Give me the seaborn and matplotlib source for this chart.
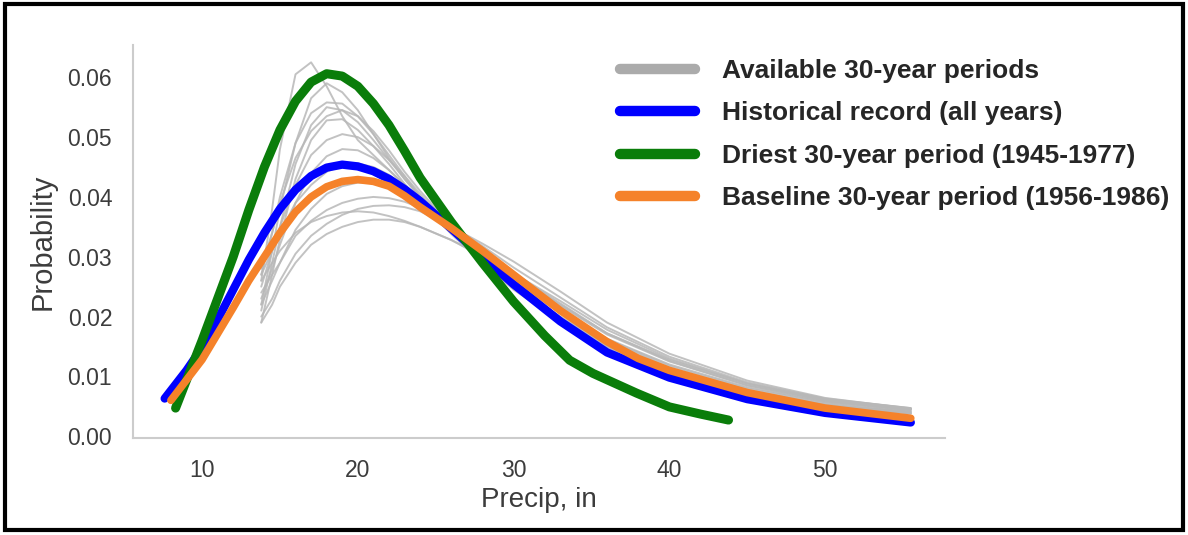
import numpy as np
import pandas as pd
import matplotlib
matplotlib.use("Agg")
import matplotlib.pyplot as plt
from matplotlib.lines import Line2D
import seaborn as sns

# Historical record (all years)
hist_x = [7.6, 9, 10, 11, 12, 13, 14, 15, 16, 17, 18, 19, 20, 21, 22, 23, 24, 26, 28, 30, 33, 36, 40, 45, 50, 55.5]
hist_y = [0.0063, 0.0110, 0.0148, 0.0195, 0.0245, 0.0295, 0.0340, 0.0380, 0.0412, 0.0435, 0.0449, 0.0454,
          0.0451, 0.0443, 0.0430, 0.0413, 0.0393, 0.0347, 0.0300, 0.0254, 0.0192, 0.0140, 0.0098, 0.0062,
          0.0039, 0.0023]

# Driest 30-year period (1945-1977)
dry_x = [8.3, 10, 12, 13, 14, 15, 16, 17, 18, 19, 20, 21, 22, 23, 24, 26, 28, 30, 32, 33.6, 35.1, 37.9, 40, 42, 43.8]
dry_y = [0.0047, 0.0160, 0.0300, 0.0378, 0.0450, 0.0512, 0.0560, 0.0592, 0.0606, 0.0602, 0.0585, 0.0556,
         0.0520, 0.0477, 0.0432, 0.0358, 0.0290, 0.0225, 0.0168, 0.0127, 0.0105, 0.0072, 0.0049, 0.0037, 0.0027]

# Baseline 30-year period (1956-1986)
base_x = [8.0, 10, 12, 13, 14, 15, 16, 17, 18, 19, 20, 21, 22, 23, 24, 26, 28, 30, 33, 36, 38, 40, 45, 50, 55.5]
base_y = [0.0060, 0.0128, 0.0215, 0.0260, 0.0300, 0.0340, 0.0375, 0.0400, 0.0417, 0.0426, 0.0429, 0.0426,
          0.0418, 0.0402, 0.0383, 0.0348, 0.0310, 0.0270, 0.0210, 0.0158, 0.0130, 0.0110, 0.0073, 0.0047, 0.0030]

# Available 30-year periods (shared precip grid)
gray_x = [13.8, 14.5, 15, 16, 17, 18, 19, 20, 21, 22, 23, 24, 26, 28, 30, 33, 36, 40, 45, 50, 55.5]
gray_curves = [
    [0.026, 0.038, 0.048, 0.0605, 0.0625, 0.0585, 0.0535, 0.0495, 0.0470, 0.0445, 0.0420, 0.0395, 0.0345, 0.0295, 0.0250, 0.0195, 0.0150, 0.0108, 0.0072, 0.0051, 0.0038],
    [0.022, 0.031, 0.038, 0.049, 0.0565, 0.0590, 0.0575, 0.0545, 0.0505, 0.0465, 0.0430, 0.0400, 0.0340, 0.0290, 0.0245, 0.0192, 0.0148, 0.0108, 0.0073, 0.0052, 0.0040],
    [0.027, 0.034, 0.040, 0.049, 0.0540, 0.0558, 0.0556, 0.0535, 0.0505, 0.0470, 0.0435, 0.0400, 0.0345, 0.0295, 0.0252, 0.0200, 0.0155, 0.0112, 0.0075, 0.0053, 0.0041],
    [0.021, 0.029, 0.035, 0.0455, 0.0520, 0.0550, 0.0545, 0.0525, 0.0495, 0.0462, 0.0430, 0.0400, 0.0343, 0.0292, 0.0250, 0.0198, 0.0152, 0.0110, 0.0073, 0.0051, 0.0039],
    [0.028, 0.034, 0.039, 0.0465, 0.0510, 0.0535, 0.0545, 0.0535, 0.0510, 0.0478, 0.0442, 0.0410, 0.0352, 0.0300, 0.0258, 0.0206, 0.0160, 0.0115, 0.0077, 0.0055, 0.0042],
    [0.019, 0.027, 0.033, 0.0430, 0.0495, 0.0528, 0.0530, 0.0512, 0.0485, 0.0455, 0.0422, 0.0392, 0.0338, 0.0290, 0.0248, 0.0196, 0.0150, 0.0108, 0.0072, 0.0050, 0.0038],
    [0.025, 0.031, 0.035, 0.0420, 0.0470, 0.0495, 0.0505, 0.0500, 0.0485, 0.0462, 0.0435, 0.0405, 0.0350, 0.0300, 0.0258, 0.0208, 0.0162, 0.0118, 0.0080, 0.0057, 0.0044],
    [0.023, 0.028, 0.032, 0.0390, 0.0440, 0.0468, 0.0480, 0.0478, 0.0465, 0.0445, 0.0420, 0.0395, 0.0345, 0.0300, 0.0260, 0.0210, 0.0163, 0.0120, 0.0082, 0.0058, 0.0045],
    [0.027, 0.031, 0.034, 0.0390, 0.0420, 0.0442, 0.0453, 0.0456, 0.0450, 0.0437, 0.0418, 0.0395, 0.0350, 0.0308, 0.0270, 0.0218, 0.0170, 0.0125, 0.0085, 0.0060, 0.0046],
    [0.022, 0.026, 0.029, 0.0345, 0.0380, 0.0405, 0.0418, 0.0424, 0.0424, 0.0418, 0.0405, 0.0390, 0.0350, 0.0310, 0.0272, 0.0222, 0.0172, 0.0128, 0.0088, 0.0062, 0.0047],
    [0.024, 0.027, 0.029, 0.0335, 0.0360, 0.0378, 0.0390, 0.0397, 0.0400, 0.0398, 0.0392, 0.0382, 0.0352, 0.0318, 0.0282, 0.0232, 0.0182, 0.0133, 0.0090, 0.0063, 0.0047],
    [0.020, 0.023, 0.026, 0.0305, 0.0335, 0.0355, 0.0370, 0.0380, 0.0385, 0.0386, 0.0383, 0.0376, 0.0350, 0.0322, 0.0292, 0.0242, 0.0190, 0.0138, 0.0093, 0.0064, 0.0046],
    [0.026, 0.029, 0.031, 0.0340, 0.0358, 0.0368, 0.0374, 0.0376, 0.0374, 0.0368, 0.0360, 0.0350, 0.0328, 0.0302, 0.0272, 0.0226, 0.0178, 0.0130, 0.0088, 0.0061, 0.0045],
    [0.019, 0.022, 0.025, 0.0290, 0.0320, 0.0338, 0.0350, 0.0358, 0.0362, 0.0362, 0.0358, 0.0350, 0.0328, 0.0300, 0.0268, 0.0220, 0.0172, 0.0126, 0.0085, 0.0060, 0.0044],
]

labels = ["Available 30-year periods", "Historical record (all years)",
          "Driest 30-year period (1945-1977)", "Baseline 30-year period (1956-1986)"]
colors = ["#ababab", "#0000ff", "#0a7d0a", "#f5822a"]

x_ticks = [10, 20, 30, 40, 50]
y_ticks = [0.00, 0.01, 0.02, 0.03, 0.04, 0.05, 0.06]

sns.set_style("white")
plt.rcParams["font.family"] = ["Liberation Sans", "DejaVu Sans"]

# long-form table for the gray curves
rows = []
for i, ys in enumerate(gray_curves):
    for xv, yv in zip(gray_x, ys):
        rows.append({"period": i, "precip": xv, "prob": yv})
gray_df = pd.DataFrame(rows)

fig = plt.figure(figsize=(11.88, 5.35), dpi=100)
ax = fig.add_axes([0.112, 0.1813, 0.6835, 0.7346])

sns.lineplot(data=gray_df, x="precip", y="prob", units="period", estimator=None,
             color="#b8b8b8", lw=1.4, alpha=0.85, legend=False, ax=ax)
sns.lineplot(x=hist_x, y=hist_y, color=colors[1], lw=6, solid_capstyle="round", ax=ax)
sns.lineplot(x=dry_x, y=dry_y, color=colors[2], lw=6.5, solid_capstyle="round", ax=ax)
sns.lineplot(x=base_x, y=base_y, color=colors[3], lw=5.5, solid_capstyle="round", ax=ax)

ax.set_xlim(5.57, 57.7)
ax.set_ylim(-0.0003, 0.0654)
ax.set_xticks(x_ticks)
ax.set_yticks(y_ticks)
ax.set_yticklabels([f"{v:.2f}" for v in y_ticks])
ax.tick_params(length=0, labelsize=16.5, labelcolor="#3c3c3c", pad=15)
ax.set_xlabel("Precip, in", fontsize=20, color="#3c3c3c", labelpad=4)
ax.set_ylabel("Probability", fontsize=21, color="#3c3c3c", labelpad=8)
sns.despine(ax=ax)
for s in ["left", "bottom"]:
    ax.spines[s].set_color("#cccccc")
    ax.spines[s].set_linewidth(1.5)

handles = [Line2D([0], [0], color=c, lw=7.5, solid_capstyle="round") for c in colors]
fig.legend(handles, labels, loc="upper left", bbox_to_anchor=(0.5219, 0.890),
           frameon=False, borderpad=0, borderaxespad=0, handlelength=2.85,
           handletextpad=1.02, labelspacing=0.7, prop={"weight": "bold", "size": 19})

# black frame around the whole picture
fig.add_artist(plt.Rectangle((0.0042, 0.0093), 0.9916, 0.9832, transform=fig.transFigure,
                             fill=False, lw=3, ec="black"))

fig.savefig("out.png", dpi=100)
